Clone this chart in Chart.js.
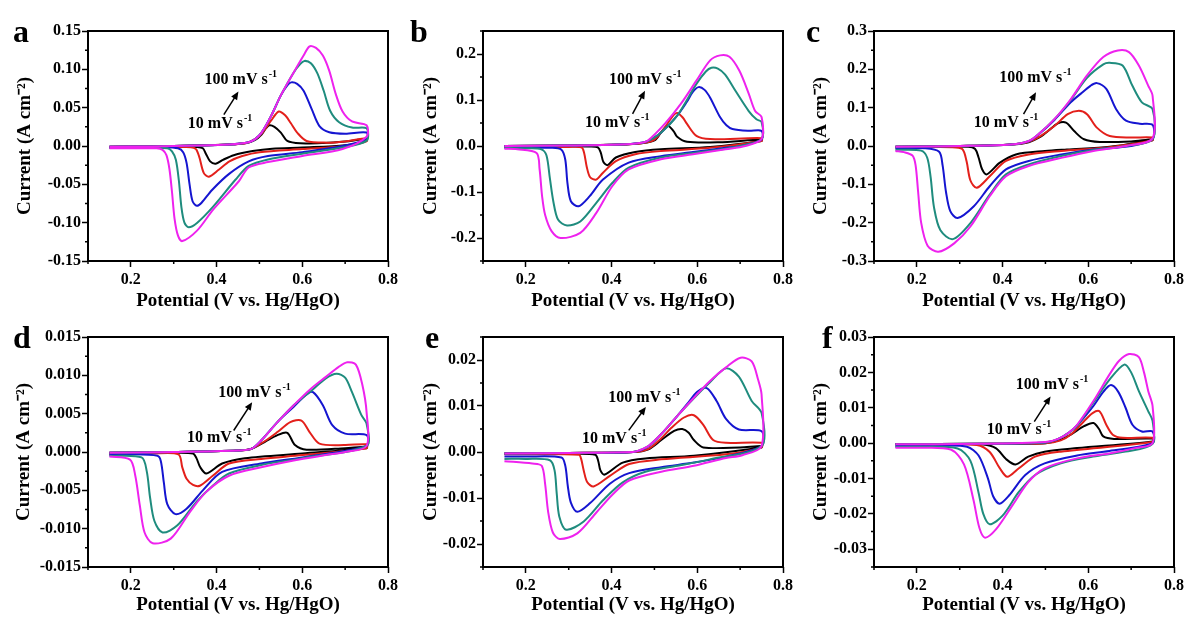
<!DOCTYPE html>
<html>
<head>
<meta charset="utf-8">
<title>CV curves a-f</title>
<script src="https://cdn.jsdelivr.net/npm/chart.js"></script>
<style>
  body { margin: 0; background: #fff; width: 1197px; height: 618px; overflow: hidden; position: relative; }
  canvas { position: absolute; }
</style>
</head>
<body>
<canvas id="pa" width="401" height="321" style="left:0px;top:0px"></canvas>
<canvas id="pb" width="401" height="321" style="left:395px;top:0px"></canvas>
<canvas id="pc" width="401" height="321" style="left:786px;top:0px"></canvas>
<canvas id="pd" width="401" height="321" style="left:0px;top:306px"></canvas>
<canvas id="pe" width="401" height="321" style="left:395px;top:306px"></canvas>
<canvas id="pf" width="401" height="321" style="left:786px;top:306px"></canvas>

<script>
// scan rates, slowest to fastest (10 ... 100 mV/s)
const rates = ['10 mV/s', '20 mV/s', '50 mV/s', '80 mV/s', '100 mV/s'];

// each curve: [potential V, current A cm-2], forward scan 0.15 -> 0.75 then back to 0.15
// ---- panel a
const aBlack = [[0.15,-0.001],[0.25,-0.0005],[0.35,0.0005],[0.43,0.002],[0.47,0.004],[0.49,0.008],[0.505,0.015],[0.515,0.023],[0.523,0.027],[0.535,0.025],[0.55,0.0175],[0.565,0.0066],[0.595,0.0035],[0.65,0.004],[0.7,0.006],[0.75,0.009],
  [0.75,0.007],[0.7,0.001],[0.6,-0.002],[0.53,-0.0035],[0.484,-0.0066],[0.44,-0.012],[0.415,-0.018],[0.398,-0.023],[0.385,-0.02],[0.375,-0.01],[0.368,-0.003],[0.355,-0.0012],[0.3,-0.001],[0.15,-0.0015]];
const aRed = [[0.15,-0.001],[0.25,-0.0005],[0.35,0.0005],[0.43,0.002],[0.47,0.004],[0.49,0.009],[0.505,0.016],[0.527,0.033],[0.545,0.045],[0.56,0.04],[0.573,0.03],[0.588,0.0175],[0.61,0.0066],[0.656,0.0044],[0.7,0.006],[0.75,0.01],
  [0.75,0.006],[0.7,0.0],[0.6,-0.004],[0.5,-0.008],[0.46,-0.013],[0.43,-0.02],[0.405,-0.031],[0.382,-0.04],[0.37,-0.035],[0.36,-0.015],[0.352,-0.004],[0.34,-0.0015],[0.25,-0.001],[0.15,-0.0015]];
const aBlue = [[0.15,-0.001],[0.25,-0.0005],[0.35,0.0005],[0.43,0.002],[0.475,0.005],[0.49,0.009],[0.505,0.0175],[0.527,0.039],[0.55,0.066],[0.565,0.079],[0.574,0.083],[0.588,0.081],[0.603,0.072],[0.622,0.048],[0.64,0.026],[0.663,0.018],[0.7,0.016],[0.75,0.0175],
  [0.75,0.009],[0.694,0.0],[0.6,-0.008],[0.52,-0.013],[0.475,-0.02],[0.43,-0.036],[0.39,-0.057],[0.365,-0.074],[0.354,-0.078],[0.344,-0.072],[0.337,-0.05],[0.33,-0.022],[0.322,-0.008],[0.31,-0.003],[0.28,-0.0015],[0.15,-0.002]];
const aTeal = [[0.15,-0.001],[0.25,-0.0005],[0.35,0.0005],[0.43,0.002],[0.475,0.005],[0.49,0.009],[0.505,0.0175],[0.527,0.039],[0.55,0.066],[0.58,0.096],[0.595,0.107],[0.605,0.111],[0.62,0.108],[0.635,0.095],[0.65,0.072],[0.665,0.046],[0.686,0.031],[0.716,0.024],[0.75,0.023],
  [0.75,0.007],[0.694,-0.002],[0.6,-0.01],[0.52,-0.0175],[0.475,-0.026],[0.444,-0.044],[0.392,-0.079],[0.355,-0.1],[0.335,-0.106],[0.325,-0.1],[0.318,-0.08],[0.312,-0.045],[0.305,-0.018],[0.296,-0.007],[0.285,-0.003],[0.15,-0.0025]];
const aMagenta = [[0.15,-0.001],[0.25,-0.0005],[0.35,0.0005],[0.43,0.002],[0.475,0.005],[0.49,0.009],[0.505,0.0175],[0.527,0.039],[0.55,0.066],[0.58,0.096],[0.603,0.118],[0.617,0.13],[0.632,0.128],[0.648,0.118],[0.663,0.098],[0.678,0.068],[0.694,0.045],[0.716,0.032],[0.75,0.027],
  [0.75,0.012],[0.694,-0.004],[0.6,-0.013],[0.52,-0.021],[0.475,-0.028],[0.452,-0.046],[0.392,-0.083],[0.355,-0.11],[0.32,-0.124],[0.31,-0.117],[0.302,-0.095],[0.296,-0.06],[0.29,-0.03],[0.283,-0.012],[0.274,-0.005],[0.26,-0.003],[0.15,-0.003]];

// ---- panel b
const bBlack = [[0.15,0.0],[0.3,0.001],[0.42,0.003],[0.47,0.006],[0.5,0.012],[0.516,0.03],[0.531,0.044],[0.545,0.032],[0.553,0.02],[0.576,0.009],[0.65,0.008],[0.75,0.014],
  [0.75,0.011],[0.63,-0.002],[0.515,-0.007],[0.455,-0.013],[0.41,-0.025],[0.391,-0.0415],[0.381,-0.035],[0.375,-0.015],[0.368,-0.003],[0.35,-0.001],[0.15,-0.001]];
const bRed = [[0.15,0.0],[0.3,0.001],[0.42,0.003],[0.47,0.006],[0.5,0.014],[0.524,0.04],[0.542,0.064],[0.553,0.072],[0.566,0.062],[0.576,0.048],[0.598,0.022],[0.63,0.015],[0.75,0.017],
  [0.75,0.011],[0.63,-0.004],[0.515,-0.011],[0.455,-0.018],[0.41,-0.033],[0.38,-0.058],[0.364,-0.073],[0.35,-0.068],[0.342,-0.045],[0.336,-0.015],[0.33,-0.003],[0.3,-0.002],[0.15,-0.002]];
const bBlue = [[0.15,0.0],[0.3,0.001],[0.42,0.003],[0.47,0.007],[0.485,0.011],[0.515,0.029],[0.553,0.066],[0.575,0.095],[0.59,0.118],[0.603,0.128],[0.617,0.122],[0.63,0.105],[0.653,0.063],[0.668,0.045],[0.682,0.037],[0.72,0.033],[0.75,0.033],
  [0.75,0.014],[0.7,0.0],[0.666,-0.004],[0.59,-0.013],[0.515,-0.022],[0.44,-0.036],[0.38,-0.073],[0.349,-0.109],[0.323,-0.131],[0.305,-0.12],[0.297,-0.08],[0.292,-0.03],[0.283,-0.008],[0.26,-0.004],[0.15,-0.003]];
const bTeal = [[0.15,0.0],[0.3,0.001],[0.42,0.003],[0.47,0.007],[0.485,0.011],[0.515,0.029],[0.553,0.066],[0.598,0.135],[0.62,0.162],[0.633,0.17],[0.648,0.168],[0.665,0.155],[0.689,0.12],[0.72,0.076],[0.738,0.058],[0.75,0.052],
  [0.75,0.015],[0.7,0.0],[0.666,-0.006],[0.59,-0.015],[0.515,-0.025],[0.44,-0.047],[0.402,-0.08],[0.364,-0.124],[0.327,-0.164],[0.296,-0.173],[0.275,-0.16],[0.264,-0.12],[0.256,-0.07],[0.248,-0.02],[0.236,-0.007],[0.2,-0.005],[0.15,-0.004]];
const bMagenta = [[0.15,0.0],[0.3,0.001],[0.42,0.003],[0.47,0.007],[0.485,0.012],[0.524,0.048],[0.562,0.092],[0.598,0.142],[0.63,0.186],[0.653,0.197],[0.675,0.194],[0.698,0.164],[0.72,0.114],[0.735,0.076],[0.75,0.063],
  [0.75,0.015],[0.712,0.0],[0.666,-0.007],[0.59,-0.018],[0.515,-0.029],[0.44,-0.051],[0.402,-0.087],[0.364,-0.146],[0.327,-0.189],[0.281,-0.2],[0.26,-0.185],[0.245,-0.15],[0.238,-0.11],[0.232,-0.05],[0.225,-0.015],[0.18,-0.007],[0.15,-0.006]];

// ---- panel c
const cBlack = [[0.15,-0.002],[0.3,0.0],[0.42,0.004],[0.461,0.01],[0.49,0.025],[0.506,0.039],[0.529,0.059],[0.548,0.061],[0.567,0.039],[0.59,0.0175],[0.627,0.0105],[0.7,0.012],[0.75,0.0175],
  [0.75,0.015],[0.65,-0.002],[0.55,-0.009],[0.499,-0.013],[0.431,-0.022],[0.393,-0.044],[0.363,-0.074],[0.352,-0.06],[0.344,-0.03],[0.336,-0.008],[0.32,-0.002],[0.15,-0.003]];
const cRed = [[0.15,-0.002],[0.3,0.0],[0.42,0.004],[0.461,0.011],[0.49,0.027],[0.521,0.052],[0.552,0.083],[0.578,0.092],[0.597,0.083],[0.62,0.048],[0.65,0.026],[0.7,0.022],[0.75,0.022],
  [0.75,0.015],[0.65,-0.003],[0.537,-0.013],[0.461,-0.022],[0.408,-0.039],[0.37,-0.079],[0.34,-0.109],[0.325,-0.09],[0.316,-0.04],[0.306,-0.008],[0.28,-0.003],[0.15,-0.004]];
const cBlue = [[0.15,-0.002],[0.3,0.0],[0.42,0.004],[0.461,0.012],[0.484,0.03],[0.521,0.068],[0.559,0.114],[0.582,0.136],[0.605,0.157],[0.62,0.164],[0.642,0.149],[0.665,0.096],[0.688,0.066],[0.72,0.058],[0.75,0.055],
  [0.75,0.018],[0.7,0.0],[0.612,-0.009],[0.537,-0.022],[0.461,-0.039],[0.408,-0.061],[0.37,-0.105],[0.333,-0.157],[0.295,-0.188],[0.278,-0.17],[0.268,-0.12],[0.26,-0.05],[0.252,-0.015],[0.22,-0.006],[0.15,-0.006]];
const cTeal = [[0.15,-0.002],[0.3,0.0],[0.42,0.004],[0.461,0.013],[0.484,0.031],[0.521,0.07],[0.559,0.12],[0.597,0.178],[0.635,0.213],[0.65,0.217],[0.68,0.21],[0.703,0.157],[0.725,0.114],[0.75,0.096],
  [0.75,0.018],[0.688,0.0],[0.612,-0.0105],[0.537,-0.026],[0.461,-0.048],[0.408,-0.074],[0.37,-0.127],[0.325,-0.201],[0.284,-0.243],[0.255,-0.22],[0.24,-0.16],[0.232,-0.08],[0.224,-0.03],[0.21,-0.012],[0.15,-0.01]];
const cMagenta = [[0.15,-0.002],[0.3,0.0],[0.42,0.004],[0.461,0.013],[0.484,0.031],[0.521,0.07],[0.559,0.122],[0.597,0.184],[0.635,0.232],[0.669,0.249],[0.695,0.245],[0.718,0.21],[0.74,0.157],[0.75,0.131],
  [0.75,0.02],[0.688,0.0],[0.612,-0.013],[0.537,-0.031],[0.461,-0.052],[0.408,-0.079],[0.37,-0.131],[0.325,-0.21],[0.287,-0.254],[0.25,-0.276],[0.225,-0.26],[0.21,-0.2],[0.203,-0.12],[0.197,-0.05],[0.19,-0.025],[0.17,-0.016],[0.15,-0.013]];

// ---- panel d
const dBlack = [[0.15,-0.0001],[0.3,0.0],[0.45,0.0002],[0.48,0.0004],[0.512,0.0013],[0.542,0.0022],[0.565,0.0025],[0.583,0.0009],[0.61,0.0003],[0.7,0.0005],[0.75,0.0007],
  [0.75,0.0005],[0.6,-0.0002],[0.466,-0.0008],[0.413,-0.0015],[0.376,-0.0028],[0.362,-0.002],[0.353,-0.0008],[0.345,-0.0002],[0.3,-0.0001],[0.15,-0.0002]];
const dRed = [[0.15,-0.0001],[0.3,0.0],[0.45,0.0002],[0.48,0.0004],[0.512,0.0014],[0.542,0.0026],[0.572,0.0039],[0.598,0.0041],[0.617,0.0026],[0.64,0.0011],[0.7,0.0009],[0.75,0.001],
  [0.75,0.0005],[0.6,-0.0004],[0.504,-0.0009],[0.429,-0.0015],[0.391,-0.0031],[0.361,-0.0044],[0.345,-0.0043],[0.33,-0.0035],[0.32,-0.002],[0.311,-0.0003],[0.25,-0.0002],[0.15,-0.0003]];
const dBlue = [[0.15,-0.0001],[0.3,0.0],[0.45,0.0002],[0.481,0.0004],[0.504,0.0015],[0.542,0.0039],[0.58,0.0059],[0.61,0.0075],[0.625,0.0078],[0.648,0.0061],[0.67,0.0035],[0.7,0.0024],[0.75,0.0022],
  [0.75,0.0008],[0.6,-0.0007],[0.504,-0.0015],[0.413,-0.0026],[0.368,-0.005],[0.33,-0.0074],[0.304,-0.0081],[0.285,-0.0068],[0.277,-0.004],[0.27,-0.0012],[0.262,-0.0005],[0.2,-0.0003],[0.15,-0.0004]];
const dTeal = [[0.15,-0.0001],[0.3,0.0],[0.45,0.0002],[0.481,0.0004],[0.504,0.0015],[0.542,0.0039],[0.58,0.0061],[0.617,0.0078],[0.655,0.0096],[0.68,0.0102],[0.7,0.0097],[0.716,0.0078],[0.738,0.0048],[0.75,0.0037],
  [0.75,0.0008],[0.6,-0.0008],[0.504,-0.0017],[0.429,-0.0028],[0.391,-0.0044],[0.353,-0.0065],[0.308,-0.0096],[0.274,-0.0105],[0.255,-0.009],[0.245,-0.006],[0.237,-0.0025],[0.225,-0.0007],[0.15,-0.0005]];
const dMagenta = [[0.15,-0.0001],[0.3,0.0],[0.45,0.0002],[0.481,0.0004],[0.504,0.0015],[0.542,0.0039],[0.58,0.0061],[0.617,0.0081],[0.655,0.0098],[0.685,0.0111],[0.705,0.0117],[0.725,0.0114],[0.74,0.0088],[0.75,0.0052],
  [0.75,0.0008],[0.7,0.0],[0.655,-0.0004],[0.58,-0.0011],[0.504,-0.002],[0.429,-0.0031],[0.376,-0.0052],[0.338,-0.0078],[0.293,-0.0113],[0.251,-0.0119],[0.232,-0.0105],[0.221,-0.007],[0.21,-0.003],[0.198,-0.001],[0.15,-0.0006]];

// ---- panel e
const eBlack = [[0.15,-0.0003],[0.3,-0.0002],[0.45,0.0],[0.486,0.0006],[0.516,0.0026],[0.546,0.0046],[0.565,0.005],[0.58,0.0042],[0.592,0.0026],[0.614,0.001],[0.7,0.001],[0.75,0.0013],
  [0.75,0.001],[0.592,-0.0008],[0.479,-0.0014],[0.426,-0.0023],[0.384,-0.0049],[0.374,-0.004],[0.369,-0.002],[0.362,-0.0006],[0.3,-0.0004],[0.15,-0.0004]];
const eRed = [[0.15,-0.0003],[0.3,-0.0002],[0.45,0.0],[0.486,0.0007],[0.516,0.003],[0.539,0.0052],[0.569,0.0075],[0.592,0.008],[0.614,0.0059],[0.637,0.0026],[0.667,0.002],[0.75,0.002],
  [0.75,0.001],[0.667,-0.0005],[0.516,-0.0016],[0.441,-0.0026],[0.396,-0.0052],[0.358,-0.0075],[0.343,-0.0065],[0.335,-0.004],[0.329,-0.0015],[0.324,-0.0006],[0.25,-0.0005],[0.15,-0.0005]];
const eBlue = [[0.15,-0.0003],[0.3,-0.0002],[0.45,0.0],[0.486,0.0012],[0.516,0.0039],[0.554,0.0079],[0.577,0.0105],[0.6,0.0131],[0.622,0.0139],[0.645,0.0111],[0.667,0.0072],[0.697,0.0049],[0.75,0.0045],
  [0.75,0.0013],[0.667,-0.001],[0.592,-0.0023],[0.516,-0.0033],[0.441,-0.0046],[0.396,-0.0069],[0.35,-0.0111],[0.32,-0.013],[0.305,-0.011],[0.298,-0.0075],[0.292,-0.003],[0.283,-0.0012],[0.2,-0.001],[0.15,-0.001]];
const eTeal = [[0.15,-0.0003],[0.3,-0.0002],[0.45,0.0],[0.463,0.0003],[0.486,0.0013],[0.516,0.0039],[0.554,0.0079],[0.592,0.0117],[0.629,0.0151],[0.667,0.0182],[0.697,0.0164],[0.727,0.0111],[0.75,0.0085],
  [0.75,0.0013],[0.629,-0.0016],[0.554,-0.003],[0.479,-0.0043],[0.426,-0.0066],[0.38,-0.0105],[0.335,-0.0151],[0.294,-0.0169],[0.278,-0.014],[0.272,-0.009],[0.267,-0.004],[0.256,-0.0018],[0.2,-0.0015],[0.15,-0.0015]];
const eMagenta = [[0.15,-0.0003],[0.3,-0.0002],[0.45,0.0],[0.463,0.0003],[0.486,0.0013],[0.516,0.0039],[0.554,0.0079],[0.592,0.0118],[0.629,0.0154],[0.667,0.0184],[0.701,0.0205],[0.727,0.0197],[0.742,0.0157],[0.75,0.0125],
  [0.75,0.0013],[0.705,-0.0007],[0.667,-0.0013],[0.592,-0.003],[0.516,-0.0043],[0.441,-0.0062],[0.403,-0.0092],[0.365,-0.0131],[0.32,-0.0177],[0.279,-0.0189],[0.263,-0.0175],[0.252,-0.013],[0.245,-0.007],[0.237,-0.003],[0.215,-0.0025],[0.15,-0.002]];

// ---- panel f
const fBlack = [[0.15,-0.0003],[0.35,-0.0002],[0.5,0.0],[0.536,0.001],[0.559,0.0024],[0.59,0.0048],[0.612,0.0057],[0.625,0.004],[0.635,0.0019],[0.66,0.0012],[0.75,0.0013],
  [0.75,0.0005],[0.574,-0.0014],[0.498,-0.0024],[0.46,-0.0038],[0.43,-0.006],[0.408,-0.0045],[0.385,-0.0015],[0.355,-0.0004],[0.25,-0.0003],[0.15,-0.0003]];
const fRed = [[0.15,-0.0003],[0.35,-0.0002],[0.5,0.0],[0.536,0.0008],[0.56,0.0025],[0.59,0.0062],[0.61,0.0085],[0.626,0.009],[0.642,0.0052],[0.657,0.0024],[0.68,0.0015],[0.75,0.0015],
  [0.75,0.0003],[0.536,-0.0024],[0.476,-0.0038],[0.438,-0.0071],[0.411,-0.0095],[0.393,-0.007],[0.37,-0.0025],[0.34,-0.0005],[0.25,-0.0004],[0.15,-0.0004]];
const fBlue = [[0.15,-0.0003],[0.35,-0.0002],[0.5,0.0002],[0.53,0.0012],[0.555,0.003],[0.574,0.005],[0.612,0.0105],[0.635,0.0145],[0.653,0.0164],[0.67,0.0145],[0.687,0.01],[0.703,0.0052],[0.725,0.0033],[0.75,0.0033],
  [0.75,0.0],[0.649,-0.0022],[0.574,-0.0035],[0.498,-0.0057],[0.453,-0.009],[0.415,-0.0148],[0.393,-0.0171],[0.378,-0.015],[0.366,-0.01],[0.344,-0.0035],[0.317,-0.001],[0.25,-0.0007],[0.15,-0.0008]];
const fTeal = [[0.15,-0.0003],[0.35,-0.0002],[0.5,0.0002],[0.53,0.0012],[0.555,0.003],[0.574,0.005],[0.612,0.0115],[0.65,0.018],[0.684,0.0222],[0.7,0.02],[0.718,0.0147],[0.74,0.009],[0.75,0.0063],
  [0.75,-0.0002],[0.687,-0.0024],[0.611,-0.0038],[0.536,-0.0057],[0.476,-0.009],[0.438,-0.0138],[0.4,-0.0205],[0.37,-0.0229],[0.355,-0.02],[0.344,-0.014],[0.325,-0.005],[0.295,-0.0015],[0.2,-0.001],[0.15,-0.0011]];
const fMagenta = [[0.15,-0.0003],[0.35,-0.0002],[0.5,0.0003],[0.53,0.0012],[0.555,0.003],[0.574,0.0052],[0.612,0.0119],[0.65,0.0195],[0.672,0.0233],[0.695,0.0252],[0.718,0.0243],[0.73,0.02],[0.74,0.0147],[0.75,0.0105],
  [0.75,0.0],[0.709,-0.0014],[0.649,-0.0029],[0.574,-0.0043],[0.498,-0.0071],[0.46,-0.011],[0.423,-0.0176],[0.385,-0.0243],[0.359,-0.0267],[0.346,-0.024],[0.332,-0.016],[0.31,-0.006],[0.279,-0.0018],[0.2,-0.0013],[0.15,-0.0013]];

// axis ranges [min, max, minor step] and labelled tick values
const xRange = [0.1, 0.8, 0.1];
const xTicks = [0.2, 0.4, 0.6, 0.8];
const yRangeA = [-0.15, 0.15, 0.025], yTicksA = [-0.15, -0.1, -0.05, 0, 0.05, 0.1, 0.15];
const yRangeB = [-0.25, 0.25, 0.05],  yTicksB = [-0.2, -0.1, 0, 0.1, 0.2];
const yRangeC = [-0.3, 0.3, 0.05],    yTicksC = [-0.3, -0.2, -0.1, 0, 0.1, 0.2, 0.3];
const yRangeD = [-0.015, 0.015, 0.0025], yTicksD = [-0.015, -0.01, -0.005, 0, 0.005, 0.01, 0.015];
const yRangeE = [-0.025, 0.025, 0.005], yTicksE = [-0.02, -0.01, 0, 0.01, 0.02];
const yRangeF = [-0.035, 0.03, 0.005],  yTicksF = [-0.03, -0.02, -0.01, 0, 0.01, 0.02, 0.03];
const yDecimals = [2, 1, 1, 3, 2, 2];

// "100 mV s-1" / "10 mV s-1" labels and arrow, in data units: [x, y]
const noteHi = [[0.372,0.081],[0.394,0.135],[0.392,0.167],[0.404,0.0072],[0.392,0.0108],[0.431,0.0152]];
const noteLo = [[0.333,0.023],[0.338,0.041],[0.333,0.049],[0.331,0.0013],[0.331,0.0019],[0.363,0.0027]];
const arrowFrom = [[0.417,0.041],[0.449,0.07],[0.449,0.083],[0.44,0.0028],[0.44,0.0047],[0.474,0.0061]];
const arrowTo = [[0.451,0.071],[0.478,0.12],[0.478,0.14],[0.483,0.0065],[0.48,0.0098],[0.512,0.0132]];

const colors = ['#000000', '#e3201b', '#1515d0', '#1f8c7e', '#ee22ee'];
const serif = '"Liberation Serif", "Times New Roman", serif';

const panels = [
  { id: 'pa', letter: 'a', lx: 13, curves: [aBlack, aRed, aBlue, aTeal, aMagenta], y: yRangeA, yt: yTicksA, tp: 14 },
  { id: 'pb', letter: 'b', lx: 15, curves: [bBlack, bRed, bBlue, bTeal, bMagenta], y: yRangeB, yt: yTicksB, tp: 25 },
  { id: 'pc', letter: 'c', lx: 20, curves: [cBlack, cRed, cBlue, cTeal, cMagenta], y: yRangeC, yt: yTicksC, tp: 24 },
  { id: 'pd', letter: 'd', lx: 13, curves: [dBlack, dRed, dBlue, dTeal, dMagenta], y: yRangeD, yt: yTicksD, tp: 13 },
  { id: 'pe', letter: 'e', lx: 30, curves: [eBlack, eRed, eBlue, eTeal, eMagenta], y: yRangeE, yt: yTicksE, tp: 25 },
  { id: 'pf', letter: 'f', lx: 36, curves: [fBlack, fRed, fBlue, fTeal, fMagenta], y: yRangeF, yt: yTicksF, tp: 24 }
];

function supText(ctx, x, y, base, sup) {
  ctx.font = 'bold 16px ' + serif;
  ctx.fillText(base, x, y);
  const w = ctx.measureText(base).width;
  ctx.font = 'bold 10px ' + serif;
  ctx.fillText(sup, x + w + 1, y - 7);
}

// frame box, minor ticks, panel letter and scan-rate notes
const decor = {
  id: 'decor',
  afterDatasetsDraw(chart, args, o) {
    const { ctx, chartArea: a, scales: { x, y } } = chart;
    ctx.save();
    ctx.strokeStyle = '#000';
    ctx.fillStyle = '#000';
    ctx.lineWidth = 2;
    ctx.strokeRect(a.left, a.top, a.right - a.left, a.bottom - a.top);

    // minor ticks sit halfway between labelled ones
    ctx.lineWidth = 1.5;
    ctx.beginPath();
    for (let k = Math.ceil(x.min / o.xm - 1e-6); k * o.xm <= x.max + 1e-9; k++) {
      if (k % 2 === 0) continue;
      const px = x.getPixelForValue(k * o.xm);
      ctx.moveTo(px, a.bottom); ctx.lineTo(px, a.bottom + 3);
    }
    for (let k = Math.ceil(y.min / o.ym - 1e-6); k * o.ym <= y.max + 1e-9; k++) {
      if (k % 2 === 0) continue;
      const py = y.getPixelForValue(k * o.ym);
      ctx.moveTo(a.left, py); ctx.lineTo(a.left - 3, py);
    }
    ctx.stroke();

    ctx.textAlign = 'left';
    ctx.textBaseline = 'alphabetic';
    supText(ctx, x.getPixelForValue(o.hi[0]), y.getPixelForValue(o.hi[1]), '100 mV s', '-1');
    supText(ctx, x.getPixelForValue(o.lo[0]), y.getPixelForValue(o.lo[1]), '10 mV s', '-1');

    const x1 = x.getPixelForValue(o.from[0]), y1 = y.getPixelForValue(o.from[1]);
    const x2 = x.getPixelForValue(o.to[0]), y2 = y.getPixelForValue(o.to[1]);
    const ang = Math.atan2(y2 - y1, x2 - x1);
    ctx.lineWidth = 1.5;
    ctx.beginPath();
    ctx.moveTo(x1, y1);
    ctx.lineTo(x2 - 5 * Math.cos(ang), y2 - 5 * Math.sin(ang));
    ctx.stroke();
    ctx.beginPath();
    ctx.moveTo(x2, y2);
    ctx.lineTo(x2 - 8 * Math.cos(ang) + 3.5 * Math.sin(ang), y2 - 8 * Math.sin(ang) - 3.5 * Math.cos(ang));
    ctx.lineTo(x2 - 8 * Math.cos(ang) - 3.5 * Math.sin(ang), y2 - 8 * Math.sin(ang) + 3.5 * Math.cos(ang));
    ctx.closePath();
    ctx.fill();

    ctx.font = 'bold 32px ' + serif;
    ctx.fillText(o.letter, o.lx, 42);
    ctx.restore();
  }
};

const tickFont = { family: serif, size: 16, weight: 'bold' };
const titleFont = { family: serif, size: 19, weight: 'bold' };

panels.forEach((p, i) => {
  const row2 = i >= 3;
  // fastest scan first so that magenta is drawn on top
  const datasets = p.curves.map((c, j) => ({
    label: rates[j],
    data: c.map(([x, y]) => ({ x, y })),
    borderColor: colors[j],
    showLine: true
  })).reverse();

  new Chart(document.getElementById(p.id), {
    type: 'scatter',
    data: { datasets },
    options: {
      responsive: false,
      animation: false,
      events: [],
      layout: { padding: { top: 31, right: 4, left: 0, bottom: 0 } },
      elements: {
        point: { radius: 0 },
        line: { borderWidth: 2, tension: 0.3, fill: false }
      },
      plugins: {
        legend: { display: false },
        tooltip: { enabled: false },
        decor: {
          letter: p.letter, lx: p.lx,
          xm: xRange[2], ym: p.y[2],
          hi: noteHi[i], lo: noteLo[i], from: arrowFrom[i], to: arrowTo[i]
        }
      },
      scales: {
        x: {
          type: 'linear',
          min: xRange[0], max: xRange[1],
          afterBuildTicks: s => { s.ticks = xTicks.map(v => ({ value: v })); },
          afterFit: s => { s.height = 60; },
          border: { display: false },
          grid: { drawOnChartArea: false, tickLength: 6, tickWidth: 1.5, tickColor: '#000', color: '#000' },
          ticks: {
            autoSkip: false, maxRotation: 0,
            padding: 3, color: '#000', font: tickFont,
            callback: v => v.toFixed(1)
          },
          title: {
            display: true, text: 'Potential (V vs. Hg/HgO)', color: '#000', font: titleFont,
            padding: { top: 0, bottom: row2 ? 11 : 9 }
          }
        },
        y: {
          type: 'linear',
          min: p.y[0], max: p.y[1],
          afterBuildTicks: s => { s.ticks = p.yt.map(v => ({ value: v })); },
          afterFit: s => { s.width = 88; },
          border: { display: false },
          grid: { drawOnChartArea: false, tickLength: 6, tickWidth: 1.5, tickColor: '#000', color: '#000' },
          ticks: {
            autoSkip: false,
            padding: 1, color: '#000', font: tickFont,
            callback: v => (Math.abs(v) < 1e-9 ? 0 : v).toFixed(yDecimals[i])
          },
          title: {
            display: true, text: 'Current (A cm\u207B\u00B2)', color: '#000', font: titleFont,
            padding: { top: p.tp, bottom: 0 }
          }
        }
      }
    },
    plugins: [decor]
  });
});
</script>
</body>
</html>
